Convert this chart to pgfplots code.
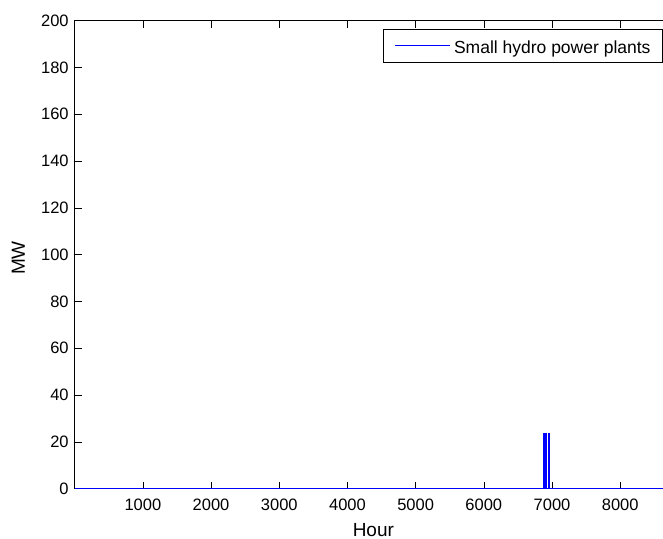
\documentclass[border=0pt]{standalone}
\usepackage{fontspec}
\setmainfont{Liberation Sans}
\usepackage{pgfplots}
\pgfplotsset{compat=1.18}
\begin{document}
\begin{tikzpicture}
\begin{axis}[
  at={(0pt,0pt)}, anchor=south west,
  scale only axis, width=597.3pt, height=468pt,
  xmin=0, xmax=8760, ymin=0, ymax=200,
  xtick={1000,2000,...,8000}, ytick={0,20,...,200},
  /pgf/number format/assume math mode=true,
  /pgf/number format/set thousands separator={},
  tick align=inside, major tick length=7pt,
  tick style={black, line width=0.6pt},
  axis line style={black, line width=0.8pt},
  ticklabel style={font=\fontsize{16.5}{19}\selectfont},
  xticklabel style={yshift=-7pt},
  yticklabel style={xshift=-2.5pt},
  xlabel={Hour}, ylabel={MW},
  label style={font=\fontsize{19}{22}\selectfont},
  xlabel style={at={(axis description cs:0.5,-0.1015)}, anchor=base},
  ylabel style={at={(axis description cs:-0.0832,0.493)}, anchor=base},
  clip=false,
  legend style={at={(0.5157,0.9816)}, anchor=north west, draw, line width=0.6pt,
    font=\fontsize{17.5}{21}\selectfont, inner xsep=11.6pt, inner ysep=8.4pt,
    nodes={inner sep=0pt, text height=15.6pt, text depth=0pt},
    column sep=3.5pt},
  legend cell align=left,
  legend image code/.code={\draw[#1, draw=blue, line width=0.9pt] (0pt,0pt) -- (55pt,0pt);},
]
\addplot[draw=blue, line width=0.9pt] coordinates {
 (0,0) (6878,0) (6878,23.8) (6890,23.8) (6890,0)
 (6906,0) (6906,23.8) (6918,23.8) (6918,0)
 (6946,0) (6946,23.8) (6956,23.8) (6956,0) (8760,0)};
\addlegendentry{Small hydro power plants}
\end{axis}
\pgfresetboundingbox
\path[use as bounding box] (-74.7pt,-49.3pt) rectangle (588.3pt,488.7pt);
\end{tikzpicture}
\end{document}
